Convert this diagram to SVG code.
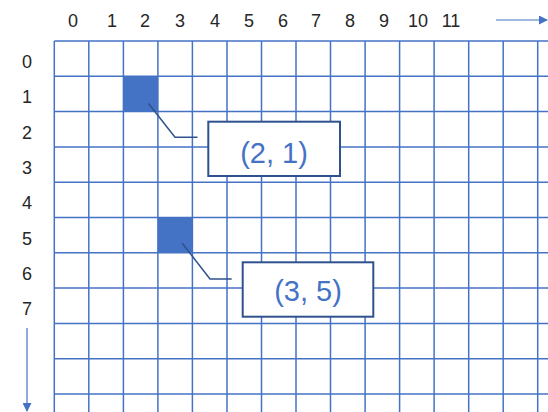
<svg xmlns="http://www.w3.org/2000/svg" width="548" height="412" viewBox="0 0 548 412">
<style>
.grid line{stroke:#4472C4;stroke-width:1.5}
.lbl{font-family:"Liberation Sans",Arial,sans-serif;font-size:18px;fill:#262626;text-anchor:middle}
.box{fill:#fff;stroke:#2F528F;stroke-width:2}
.bt{font-family:"Liberation Sans",Arial,sans-serif;font-size:29px;fill:#4472C4;text-anchor:middle}
.cell{fill:#4472C4}
.lead{fill:none;stroke:#2F528F;stroke-width:1.5}
.axis{stroke:#4472C4;stroke-width:1.2}
</style>
<defs>
<marker id="ah" markerWidth="9" markerHeight="9" refX="8" refY="4.5" orient="auto" markerUnits="userSpaceOnUse">
<path d="M0,0 L9,4.5 L0,9 Z" fill="#4472C4"/>
</marker>
</defs>
<rect width="548" height="412" fill="#fff"/>
<g class="grid" id="grid">
<line x1="54.3" y1="41" x2="54.3" y2="412"/>
<line x1="88.8" y1="41" x2="88.8" y2="412"/>
<line x1="123.4" y1="41" x2="123.4" y2="412"/>
<line x1="157.9" y1="41" x2="157.9" y2="412"/>
<line x1="192.4" y1="41" x2="192.4" y2="412"/>
<line x1="227" y1="41" x2="227" y2="412"/>
<line x1="261.5" y1="41" x2="261.5" y2="412"/>
<line x1="296" y1="41" x2="296" y2="412"/>
<line x1="330.5" y1="41" x2="330.5" y2="412"/>
<line x1="365.1" y1="41" x2="365.1" y2="412"/>
<line x1="399.6" y1="41" x2="399.6" y2="412"/>
<line x1="434.1" y1="41" x2="434.1" y2="412"/>
<line x1="468.7" y1="41" x2="468.7" y2="412"/>
<line x1="503.2" y1="41" x2="503.2" y2="412"/>
<line x1="537.7" y1="41" x2="537.7" y2="412"/>
<line x1="54.3" y1="41" x2="548" y2="41"/>
<line x1="54.3" y1="76.3" x2="548" y2="76.3"/>
<line x1="54.3" y1="111.6" x2="548" y2="111.6"/>
<line x1="54.3" y1="146.9" x2="548" y2="146.9"/>
<line x1="54.3" y1="182.2" x2="548" y2="182.2"/>
<line x1="54.3" y1="217.5" x2="548" y2="217.5"/>
<line x1="54.3" y1="252.8" x2="548" y2="252.8"/>
<line x1="54.3" y1="288.1" x2="548" y2="288.1"/>
<line x1="54.3" y1="323.4" x2="548" y2="323.4"/>
<line x1="54.3" y1="358.7" x2="548" y2="358.7"/>
<line x1="54.3" y1="394" x2="548" y2="394"/>
</g>
<g id="col-labels">
<text class="lbl" x="73" y="27">0</text>
<text class="lbl" x="112" y="27">1</text>
<text class="lbl" x="145" y="27">2</text>
<text class="lbl" x="180" y="27">3</text>
<text class="lbl" x="215" y="27">4</text>
<text class="lbl" x="249" y="27">5</text>
<text class="lbl" x="283" y="27">6</text>
<text class="lbl" x="316" y="27">7</text>
<text class="lbl" x="350" y="27">8</text>
<text class="lbl" x="384" y="27">9</text>
<text class="lbl" x="418" y="27">10</text>
<text class="lbl" x="451" y="27">11</text>
</g>
<g id="row-labels">
<text class="lbl" x="27" y="68">0</text>
<text class="lbl" x="27" y="103.3">1</text>
<text class="lbl" x="27" y="138.6">2</text>
<text class="lbl" x="27" y="173.9">3</text>
<text class="lbl" x="27" y="209.2">4</text>
<text class="lbl" x="27" y="244.5">5</text>
<text class="lbl" x="27" y="279.8">6</text>
<text class="lbl" x="27" y="315">7</text>
</g>
<g id="cell-2-1"><rect class="cell" x="123.4" y="76.3" width="34.5" height="35.3"/></g>
<g id="cell-3-5"><rect class="cell" x="157.9" y="217.5" width="34.5" height="35.3"/></g>
<g id="connectors">
<polyline class="lead" points="148.5,103.5 175,137.3 197.5,137.3"/>
<polyline class="lead" points="182.3,243.3 210,279 231.7,279"/>
<line class="axis" x1="496" y1="20" x2="547" y2="20" marker-end="url(#ah)"/>
<line class="axis" x1="27" y1="328" x2="27" y2="411" marker-end="url(#ah)"/>
</g>
<g id="label-2-1">
<rect class="box" x="208.3" y="121.7" width="131.7" height="54.3"/>
<text class="bt" x="274" y="162.5">(2, 1)</text>
</g>
<g id="label-3-5">
<rect class="box" x="242.7" y="262.3" width="130.6" height="54.4"/>
<text class="bt" x="308" y="301">(3, 5)</text>
</g>
</svg>
